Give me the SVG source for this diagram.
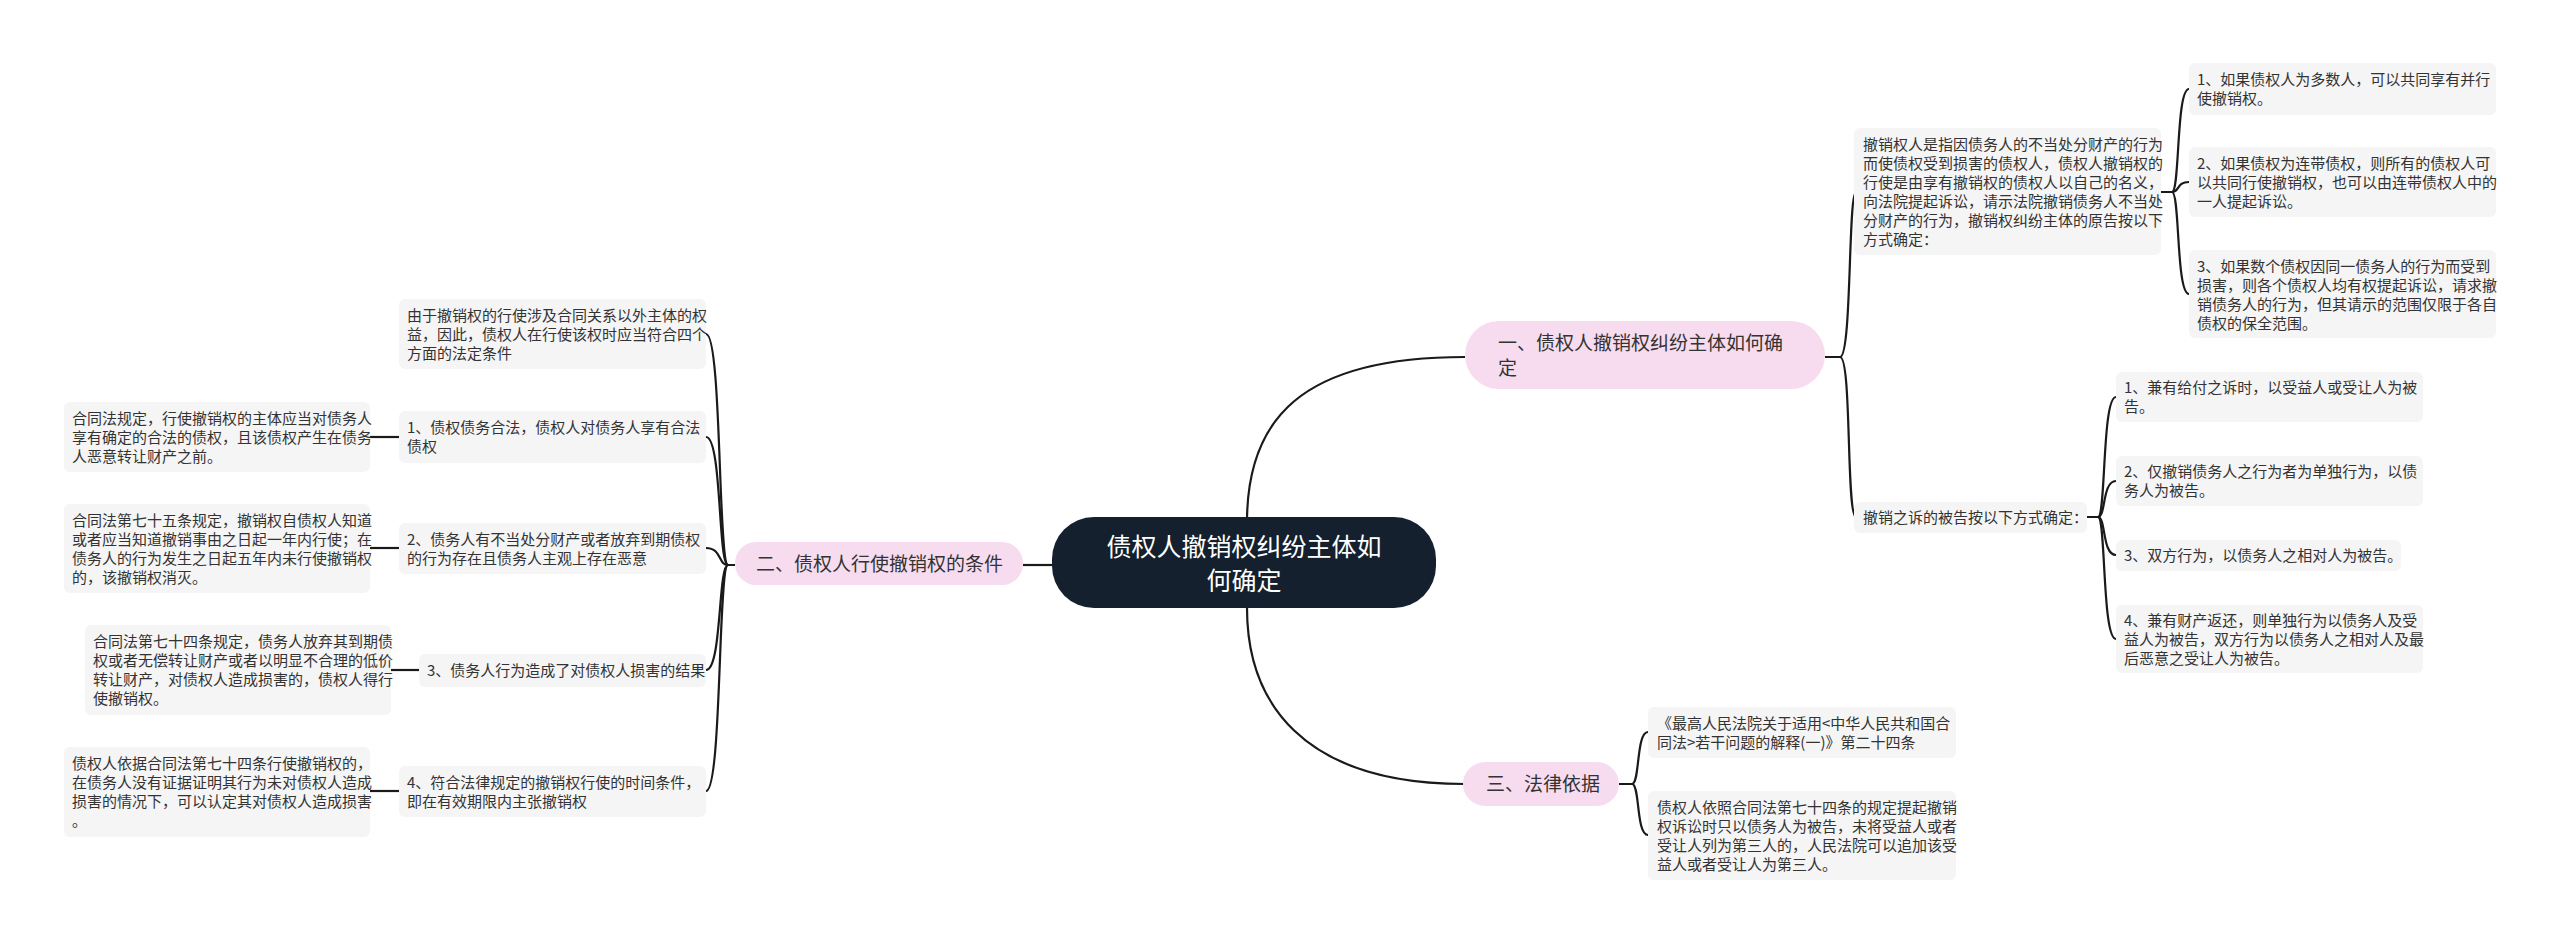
<svg xmlns="http://www.w3.org/2000/svg" width="2560" height="943" viewBox="0 0 2560 943">
<style>
text{font-family:"Noto Sans CJK SC","Noto Sans",sans-serif;fill:#333}
.leaf rect{fill:#f5f5f5}
.leaf text{font-size:15px}
.br rect{fill:#f7dcef}
.br text{font-size:19px;fill:#333}
.c path{fill:none;stroke:#1a1a1a;stroke-width:2.2}
</style>
<rect width="2560" height="943" fill="#fff"/>
<g class="c">
<path d="M1247 522 C1247 420 1300 357 1465 357"/>
<path d="M1023 565 L1052 565"/>
<path d="M1247 608 C1247 700 1300 784 1465 784"/>
<path d="M1825 357 L1840 357 C1852 357 1848 192 1856 192"/>
<path d="M1825 357 L1840 357 C1852 357 1846 517 1856 517"/>
<path d="M2161 192 L2172 192 C2180 192 2176 89 2189 89"/>
<path d="M2161 192 L2172 192 C2180 192 2176 182 2189 182"/>
<path d="M2161 192 L2172 192 C2180 192 2176 294 2189 294"/>
<path d="M2087 517 L2098 517 C2106 517 2102 397 2116 397"/>
<path d="M2087 517 L2098 517 C2106 517 2102 481 2116 481"/>
<path d="M2087 517 L2098 517 C2106 517 2102 555 2116 555"/>
<path d="M2087 517 L2098 517 C2106 517 2102 639 2116 639"/>
<path d="M1619 784 L1632 784 C1640 784 1636 732 1648 732"/>
<path d="M1619 784 L1632 784 C1640 784 1636 835 1648 835"/>
<path d="M735 565 L728 565 C718 565 722 334 706 334"/>
<path d="M735 565 L728 565 C718 565 722 437 706 437"/>
<path d="M735 565 L728 565 C718 565 722 548 706 548"/>
<path d="M735 565 L728 565 C718 565 722 670 706 670"/>
<path d="M735 565 L728 565 C718 565 722 791 706 791"/>
<path d="M370 437 L399 437"/>
<path d="M370 548 L399 548"/>
<path d="M391 670 L419 670"/>
<path d="M370 791 L399 791"/>
</g>
<g id="root">
<rect x="1052" y="517" width="384" height="91" rx="42" fill="#14202e"/>
<text x="1244" y="556" text-anchor="middle" style="font-size:25px;fill:#fff">债权人撤销权纠纷主体如</text>
<text x="1244" y="590" text-anchor="middle" style="font-size:25px;fill:#fff">何确定</text>
</g>
<g id="b1" class="br">
<rect x="1465" y="321" width="360" height="68" rx="34"/>
<text x="1498" y="350">一、债权人撤销权纠纷主体如何确</text>
<text x="1498" y="375">定</text>
</g>
<g id="b2" class="br">
<rect x="735" y="542" width="288" height="43" rx="21"/>
<text x="756" y="571">二、债权人行使撤销权的条件</text>
</g>
<g id="b3" class="br">
<rect x="1463" y="762" width="156" height="44" rx="22"/>
<text x="1486" y="791">三、法律依据</text>
</g>
<g id="r1" class="leaf"><rect x="1854" y="128" width="307" height="127" rx="6"/>
<text x="1863" y="150">撤销权人是指因债务人的不当处分财产的行为</text>
<text x="1863" y="169">而使债权受到损害的债权人，债权人撤销权的</text>
<text x="1863" y="188">行使是由享有撤销权的债权人以自己的名义，</text>
<text x="1863" y="207">向法院提起诉讼，请示法院撤销债务人不当处</text>
<text x="1863" y="226">分财产的行为，撤销权纠纷主体的原告按以下</text>
<text x="1863" y="245">方式确定：</text></g>
<g id="r1a" class="leaf"><rect x="2189" y="63" width="307" height="52" rx="6"/>
<text x="2197" y="85">1、如果债权人为多数人，可以共同享有并行</text>
<text x="2197" y="104">使撤销权。</text></g>
<g id="r1b" class="leaf"><rect x="2189" y="147" width="307" height="70" rx="6"/>
<text x="2197" y="169">2、如果债权为连带债权，则所有的债权人可</text>
<text x="2197" y="188">以共同行使撤销权，也可以由连带债权人中的</text>
<text x="2197" y="207">一人提起诉讼。</text></g>
<g id="r1c" class="leaf"><rect x="2189" y="250" width="307" height="88" rx="6"/>
<text x="2197" y="272">3、如果数个债权因同一债务人的行为而受到</text>
<text x="2197" y="291">损害，则各个债权人均有权提起诉讼，请求撤</text>
<text x="2197" y="310">销债务人的行为，但其请示的范围仅限于各自</text>
<text x="2197" y="329">债权的保全范围。</text></g>
<g id="r2" class="leaf"><rect x="1854" y="502" width="233" height="31" rx="6"/>
<text x="1863" y="523">撤销之诉的被告按以下方式确定：</text></g>
<g id="r2a" class="leaf"><rect x="2116" y="372" width="307" height="50" rx="6"/>
<text x="2124" y="393">1、兼有给付之诉时，以受益人或受让人为被</text>
<text x="2124" y="412">告。</text></g>
<g id="r2b" class="leaf"><rect x="2116" y="456" width="307" height="50" rx="6"/>
<text x="2124" y="477">2、仅撤销债务人之行为者为单独行为，以债</text>
<text x="2124" y="496">务人为被告。</text></g>
<g id="r2c" class="leaf"><rect x="2116" y="540" width="285" height="31" rx="6"/>
<text x="2124" y="561">3、双方行为，以债务人之相对人为被告。</text></g>
<g id="r2d" class="leaf"><rect x="2116" y="605" width="307" height="68" rx="6"/>
<text x="2124" y="626">4、兼有财产返还，则单独行为以债务人及受</text>
<text x="2124" y="645">益人为被告，双方行为以债务人之相对人及最</text>
<text x="2124" y="664">后恶意之受让人为被告。</text></g>
<g id="r3a" class="leaf"><rect x="1648" y="707" width="308" height="51" rx="6"/>
<text x="1657" y="729">《最高人民法院关于适用&lt;中华人民共和国合</text>
<text x="1657" y="748">同法&gt;若干问题的解释(一)》第二十四条</text></g>
<g id="r3b" class="leaf"><rect x="1648" y="791" width="308" height="89" rx="6"/>
<text x="1657" y="813">债权人依照合同法第七十四条的规定提起撤销</text>
<text x="1657" y="832">权诉讼时只以债务人为被告，未将受益人或者</text>
<text x="1657" y="851">受让人列为第三人的，人民法院可以追加该受</text>
<text x="1657" y="870">益人或者受让人为第三人。</text></g>
<g id="l0" class="leaf"><rect x="399" y="299" width="307" height="70" rx="6"/>
<text x="407" y="321">由于撤销权的行使涉及合同关系以外主体的权</text>
<text x="407" y="340">益，因此，债权人在行使该权时应当符合四个</text>
<text x="407" y="359">方面的法定条件</text></g>
<g id="l1" class="leaf"><rect x="399" y="411" width="307" height="52" rx="6"/>
<text x="407" y="433">1、债权债务合法，债权人对债务人享有合法</text>
<text x="407" y="452">债权</text></g>
<g id="l2" class="leaf"><rect x="399" y="523" width="307" height="51" rx="6"/>
<text x="407" y="545">2、债务人有不当处分财产或者放弃到期债权</text>
<text x="407" y="564">的行为存在且债务人主观上存在恶意</text></g>
<g id="l3" class="leaf"><rect x="419" y="654" width="287" height="33" rx="6"/>
<text x="427" y="676">3、债务人行为造成了对债权人损害的结果</text></g>
<g id="l4" class="leaf"><rect x="399" y="766" width="307" height="51" rx="6"/>
<text x="407" y="788">4、符合法律规定的撤销权行使的时间条件，</text>
<text x="407" y="807">即在有效期限内主张撤销权</text></g>
<g id="l1a" class="leaf"><rect x="64" y="402" width="306" height="70" rx="6"/>
<text x="72" y="424">合同法规定，行使撤销权的主体应当对债务人</text>
<text x="72" y="443">享有确定的合法的债权，且该债权产生在债务</text>
<text x="72" y="462">人恶意转让财产之前。</text></g>
<g id="l2a" class="leaf"><rect x="64" y="504" width="306" height="89" rx="6"/>
<text x="72" y="526">合同法第七十五条规定，撤销权自债权人知道</text>
<text x="72" y="545">或者应当知道撤销事由之日起一年内行使；在</text>
<text x="72" y="564">债务人的行为发生之日起五年内未行使撤销权</text>
<text x="72" y="583">的，该撤销权消灭。</text></g>
<g id="l3a" class="leaf"><rect x="85" y="625" width="306" height="90" rx="6"/>
<text x="93" y="647">合同法第七十四条规定，债务人放弃其到期债</text>
<text x="93" y="666">权或者无偿转让财产或者以明显不合理的低价</text>
<text x="93" y="685">转让财产，对债权人造成损害的，债权人得行</text>
<text x="93" y="704">使撤销权。</text></g>
<g id="l4a" class="leaf"><rect x="64" y="747" width="306" height="90" rx="6"/>
<text x="72" y="769">债权人依据合同法第七十四条行使撤销权的，</text>
<text x="72" y="788">在债务人没有证据证明其行为未对债权人造成</text>
<text x="72" y="807">损害的情况下，可以认定其对债权人造成损害</text>
<text x="72" y="826">。</text></g>
</svg>
